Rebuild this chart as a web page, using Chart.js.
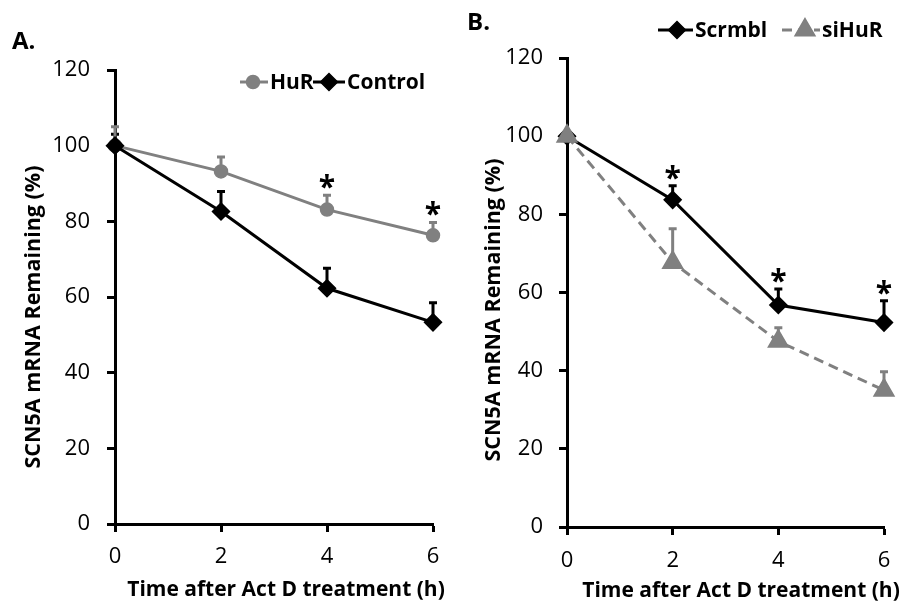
<!DOCTYPE html>
<html>
<head>
<meta charset="utf-8">
<script src="https://cdn.jsdelivr.net/npm/chart.js@4.4.0/dist/chart.umd.min.js"></script>
<style>
    html, body { margin: 0; padding: 0; background: #fff; }
    .wrap { display: flex; width: 906px; height: 608px; }
    .panel { position: relative; width: 453px; height: 608px; }
    canvas { display: block; }
</style>
</head>
<body>
<div class="wrap">
    <div class="panel"><canvas id="chartA" width="453" height="608"></canvas></div>
    <div class="panel"><canvas id="chartB" width="453" height="608"></canvas></div>
</div>
<script>
// 共用刻度
const hours = [0, 2, 4, 6];
const yTicks = [0, 20, 40, 60, 80, 100, 120];

// 图A: HuR vs Control
const hurValues = [100, 93.2, 83.1, 76.3];
const hurErrors = [5, 3.8, 3.8, 3.4];
const hurSig = [false, false, true, true];
const controlValues = [100, 82.6, 62.3, 53.3];
const controlErrors = [3, 5.3, 5.3, 5.2];

// 图B: Scrmbl vs siHuR
const scrmblValues = [100, 83.7, 56.8, 52.3];
const scrmblErrors = [0, 3.6, 4.1, 5.6];
const scrmblSig = [false, true, true, true];
const siHuRValues = [100, 67.7, 47.5, 35.0];
const siHuRErrors = [0, 8.6, 3.5, 4.7];

const GRAY = "#808080";
const BLACK = "#000000";
const FONT = "\"Open Sans\", \"Liberation Sans\", sans-serif";

const toPoints = values => hours.map((h, i) => ({ x: h, y: values[i] }));

// 误差线、星号、图例、标题
const decorPlugin = {
    id: "decor",
    beforeDatasetsDraw(chart) {
        const ctx = chart.ctx;
        const xs = chart.scales.x, ys = chart.scales.y;
        chart.data.datasets.forEach(ds => {
            if (!ds.errors) return;
            ctx.save();
            ctx.strokeStyle = ds.borderColor;
            ctx.lineWidth = 3;
            ds.data.forEach((p, i) => {
                const e = ds.errors[i];
                if (!e) return;
                const px = xs.getPixelForValue(p.x);
                const y0 = ys.getPixelForValue(p.y);
                const y1 = ys.getPixelForValue(p.y + e);
                ctx.beginPath();
                ctx.moveTo(px, y0);
                ctx.lineTo(px, y1);
                ctx.moveTo(px - 4, y1);
                ctx.lineTo(px + 4, y1);
                ctx.stroke();
            });
            ctx.restore();
        });
    },
    afterDatasetsDraw(chart) {
        const ctx = chart.ctx;
        const xs = chart.scales.x, ys = chart.scales.y;
        chart.data.datasets.forEach(ds => {
            if (!ds.sig) return;
            ctx.save();
            ctx.fillStyle = BLACK;
            ctx.font = "bold 30px " + FONT;
            ctx.textAlign = "center";
            ctx.textBaseline = "alphabetic";
            ds.data.forEach((p, i) => {
                if (!ds.sig[i]) return;
                const px = xs.getPixelForValue(p.x);
                const top = ys.getPixelForValue(p.y + (ds.errors[i] || 0));
                ctx.fillText("*", px, top + 2);
            });
            ctx.restore();
        });
    },
    afterDraw(chart, args, opts) {
        const ctx = chart.ctx;
        ctx.save();
        ctx.fillStyle = BLACK;

        // 面板字母
        ctx.font = "bold 24px " + FONT;
        ctx.textAlign = "left";
        ctx.textBaseline = "middle";
        ctx.fillText(opts.letter, opts.letterX, opts.letterY);

        // 坐标轴标题
        ctx.font = "bold 21px " + FONT;
        ctx.textAlign = "center";
        ctx.fillText("Time after Act D treatment (h)", opts.xTitleX, opts.xTitleY);
        ctx.save();
        ctx.translate(opts.yTitleX, opts.yTitleY);
        ctx.rotate(-Math.PI / 2);
        ctx.font = "bold 21.5px " + FONT;
        ctx.fillText("SCN5A mRNA Remaining (%)", 0, 0);
        ctx.restore();

        // 图例
        opts.legend.forEach(item => {
            const ds = chart.data.datasets[item.index];
            ctx.save();
            ctx.strokeStyle = ds.borderColor;
            ctx.fillStyle = ds.borderColor;
            ctx.lineWidth = 3;
            ctx.setLineDash(ds.borderDash || []);
            ctx.beginPath();
            ctx.moveTo(item.x0, item.y);
            ctx.lineTo(item.x1, item.y);
            ctx.stroke();
            ctx.setLineDash([]);
            ctx.lineWidth = ds.pointBorderWidth;
            Chart.helpers.drawPoint(ctx, {
                pointStyle: ds.pointStyle,
                radius: ds.pointRadius,
                rotation: 0,
                borderWidth: ds.pointBorderWidth
            }, item.mx, item.y);
            ctx.fillStyle = BLACK;
            ctx.font = "bold 21px " + FONT;
            ctx.textAlign = "left";
            ctx.textBaseline = "middle";
            ctx.fillText(ds.label, item.x1 + 2, item.y + 1);
            ctx.restore();
        });
        ctx.restore();
    }
};

function makeScales(yWidth, xHeight, yPad, xPad) {
    const axisStyle = {
        grid: { display: true, drawOnChartArea: false, drawTicks: true, tickLength: 8, tickWidth: 3, tickColor: BLACK },
        border: { display: true, color: BLACK, width: 3 }
    };
    return {
        x: {
            type: "linear",
            min: 0,
            max: 6,
            afterBuildTicks: s => { s.ticks = hours.map(v => ({ value: v })); },
            afterFit: s => { s.height = xHeight; },
            ticks: { color: BLACK, font: { family: FONT, size: 22 }, padding: xPad },
            ...axisStyle
        },
        y: {
            type: "linear",
            min: 0,
            max: 120,
            afterBuildTicks: s => { s.ticks = yTicks.map(v => ({ value: v })); },
            afterFit: s => { s.width = yWidth; },
            ticks: { color: BLACK, font: { family: FONT, size: 22 }, padding: yPad },
            ...axisStyle
        }
    };
}

function lineSet(label, values, errors, color, style, radius, extra) {
    return Object.assign({
        label: label,
        data: toPoints(values),
        errors: errors,
        borderColor: color,
        backgroundColor: color,
        borderWidth: 3,
        pointStyle: style,
        pointRadius: radius,
        pointBorderWidth: 1.5,
        pointBackgroundColor: color,
        pointBorderColor: color,
        tension: 0,
        clip: false
    }, extra || {});
}

new Chart(document.getElementById("chartA"), {
    type: "line",
    data: {
        datasets: [
            lineSet("Control", controlValues, controlErrors, BLACK, "rectRot", 8.5, { order: 0 }),
            lineSet("HuR", hurValues, hurErrors, GRAY, "circle", 6.5, { sig: hurSig, order: 1 })
        ]
    },
    options: {
        responsive: false,
        animation: false,
        layout: { padding: { left: 0, right: 20, top: 70, bottom: 0 } },
        scales: makeScales(115, 84, 17, 12),
        plugins: {
            legend: { display: false },
            tooltip: { enabled: false },
            decor: {
                letter: "A.",
                letterX: 12,
                letterY: 42,
                xTitleX: 286,
                xTitleY: 590,
                yTitleX: 34,
                yTitleY: 317,
                legend: [
                    { index: 1, x0: 240, x1: 268, mx: 253, y: 82 },
                    { index: 0, x0: 313, x1: 345, mx: 329, y: 82 }
                ]
            }
        }
    },
    plugins: [decorPlugin]
});

new Chart(document.getElementById("chartB"), {
    type: "line",
    data: {
        datasets: [
            lineSet("Scrmbl", scrmblValues, scrmblErrors, BLACK, "rectRot", 8.5, { sig: scrmblSig, order: 1 }),
            lineSet("siHuR", siHuRValues, siHuRErrors, GRAY, "triangle", 11.5, { borderDash: [10, 6], order: 0 })
        ]
    },
    options: {
        responsive: false,
        animation: false,
        layout: { padding: { left: 0, right: 22, top: 58, bottom: 0 } },
        scales: makeScales(114, 81, 16, 13),
        plugins: {
            legend: { display: false },
            tooltip: { enabled: false },
            decor: {
                letter: "B.",
                letterX: 14,
                letterY: 23,
                xTitleX: 288,
                xTitleY: 591,
                yTitleX: 41,
                yTitleY: 310,
                legend: [
                    { index: 0, x0: 205, x1: 240, mx: 224, y: 30 },
                    { index: 1, x0: 329, x1: 367, mx: 352, y: 30 }
                ]
            }
        }
    },
    plugins: [decorPlugin]
});
</script>
</body>
</html>
